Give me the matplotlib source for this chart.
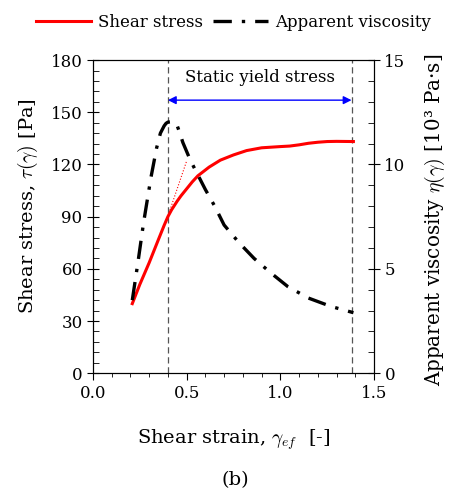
import numpy as np
import matplotlib
matplotlib.use('Agg')
from matplotlib import pyplot as plt
from matplotlib.ticker import MultipleLocator, AutoMinorLocator, FormatStrFormatter

plt.rcParams['font.family'] = ['DejaVu Serif']
plt.rcParams['mathtext.fontset'] = 'cm'

# Shear stress (left axis) [Pa]
strain_tau = [0.21, 0.25, 0.30, 0.35, 0.38, 0.40, 0.42, 0.45, 0.47, 0.50, 0.53, 0.56, 0.62, 0.68,
              0.75, 0.82, 0.90, 1.00, 1.05, 1.10, 1.15, 1.20, 1.25, 1.30, 1.39]
tau = [40, 51, 63.5, 77, 85, 90, 94, 99, 102, 106, 110, 113.5, 118.5, 122.5,
       125.5, 128, 129.6, 130.3, 130.6, 131.3, 132.2, 132.8, 133.2, 133.3, 133.2]

# Apparent viscosity (right axis) [10^3 Pa.s]
strain_eta = [0.21, 0.24, 0.27, 0.31, 0.34, 0.36, 0.38, 0.39, 0.40, 0.42, 0.44, 0.45, 0.46,
              0.48, 0.52, 0.56, 0.60, 0.65, 0.70, 0.78, 0.86, 0.95, 1.04, 1.15, 1.27, 1.39]
eta = [3.5, 5.3, 7.2, 9.4, 10.8, 11.5, 11.85, 11.97, 12.03, 12.05, 12.0, 11.85, 11.6,
       11.05, 10.2, 9.5, 8.8, 8.0, 7.1, 6.25, 5.5, 4.8, 4.15, 3.6, 3.2, 2.9]

# Tangent line (thin dotted)
tan_x = [0.38, 0.50]
tan_y = [84, 122]

# Yield limits
x_start = 0.40
x_end = 1.38

fig = plt.figure(figsize=(4.49, 4.93), dpi=100)
ax = fig.add_axes([0.207, 0.243, 0.626, 0.635])
ax2 = ax.twinx()

l1, = ax.plot(strain_tau, tau, '-', color='red', lw=2.2, label='Shear stress', zorder=4)
ax.plot(tan_x, tan_y, ':', color='red', lw=0.8)
l2, = ax2.plot(strain_eta, eta, color='black', lw=2.4, linestyle=(0, (5.5, 3, 1, 3)),
               label='Apparent viscosity')

for xv in (x_start, x_end):
    ax.axvline(xv, color='#555555', lw=0.9, linestyle=(0, (5, 3)))

ax.annotate('', xy=(x_start, 157), xytext=(x_end, 157),
            arrowprops=dict(arrowstyle='<|-|>', color='blue', lw=1.0,
                            mutation_scale=12, shrinkA=0, shrinkB=0))
ax.text((x_start + x_end) / 2, 170, 'Static yield stress', ha='center', va='center', fontsize=12)

ax.set_xlim(0, 1.5)
ax.set_ylim(0, 180)
ax2.set_ylim(0, 15)
ax.xaxis.set_major_locator(MultipleLocator(0.5))
ax.xaxis.set_minor_locator(MultipleLocator(0.1))
ax.yaxis.set_major_locator(MultipleLocator(30))
ax.yaxis.set_minor_locator(AutoMinorLocator(5))
ax2.yaxis.set_major_locator(MultipleLocator(5))
ax2.yaxis.set_minor_locator(MultipleLocator(1))

ax.tick_params(axis='x', which='both', direction='out', labelsize=12)
ax.tick_params(axis='x', which='major', length=5)
ax.tick_params(axis='x', which='minor', length=3)
ax.tick_params(axis='y', which='major', direction='inout', length=8, labelsize=12)
ax.tick_params(axis='y', which='minor', direction='in', length=4)
ax2.tick_params(axis='y', which='major', direction='inout', length=8, labelsize=12)
ax2.tick_params(axis='y', which='minor', direction='in', length=4)
ax.xaxis.set_major_formatter(FormatStrFormatter('%.1f'))

ax.set_xlabel(r'Shear strain, $\gamma_{ef}$  [-]', fontsize=14)
ax.set_ylabel(r'Shear stress, $\tau(\gamma)$ [Pa]', fontsize=14)
ax2.set_ylabel(r'Apparent viscosity $\eta(\gamma)$ [10³ Pa·s]', fontsize=14.3)
ax.xaxis.set_label_coords(0.5, -0.175)
ax.yaxis.set_label_coords(-0.19, 0.534)
ax2.yaxis.set_label_coords(1.175, 0.489)

fig.legend(handles=[l1, l2], loc='center', bbox_to_anchor=(0.52, 0.955), ncol=2,
           frameon=False, fontsize=12, handlelength=3.3, columnspacing=0.6, handletextpad=0.4)
fig.text(0.525, 0.026, '(b)', ha='center', va='center', fontsize=14)

fig.savefig('out.png', dpi=100)
